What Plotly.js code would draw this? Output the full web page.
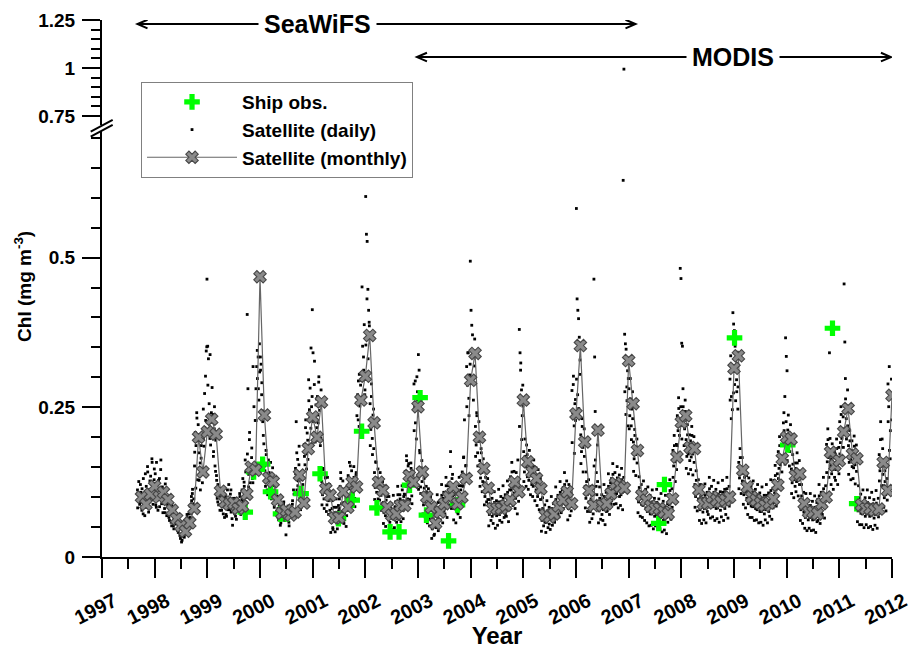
<!DOCTYPE html>
<html><head><meta charset="utf-8">
<script src="https://cdn.plot.ly/plotly-3.0.1.min.js"></script>
<style>html,body{margin:0;padding:0;background:#fff}#chart{width:914px;height:649px}</style>
</head><body><div id="chart"></div>
<script>
// ---------------- DATA ----------------
// Monthly satellite means, Sep 1997 .. Dec 2011 (one value per month)
const monthlyStartYear = 1997;
const monthlyStartMonth = 9;
const monthly1997 = [0.100, 0.088, 0.105, 0.118];
const monthly1998 = [0.100, 0.108, 0.096, 0.078, 0.064, 0.052, 0.043, 0.057, 0.081, 0.200, 0.142, 0.209];
const monthly1999 = [0.230, 0.205, 0.110, 0.092, 0.088, 0.090, 0.081, 0.085, 0.105, 0.150, 0.145, 0.468];
const monthly2000 = [0.237, 0.132, 0.126, 0.095, 0.073, 0.078, 0.070, 0.075, 0.137, 0.090, 0.181, 0.234];
const monthly2001 = [0.200, 0.259, 0.114, 0.103, 0.065, 0.066, 0.109, 0.083, 0.125, 0.117, 0.262, 0.302];
const monthly2002 = [0.370, 0.224, 0.125, 0.111, 0.083, 0.070, 0.072, 0.086, 0.086, 0.136, 0.125, 0.251];
const monthly2003 = [0.142, 0.100, 0.083, 0.056, 0.075, 0.089, 0.100, 0.117, 0.089, 0.100, 0.131, 0.295];
const monthly2004 = [0.340, 0.200, 0.148, 0.115, 0.081, 0.081, 0.081, 0.086, 0.095, 0.125, 0.109, 0.262];
const monthly2005 = [0.159, 0.142, 0.131, 0.114, 0.070, 0.067, 0.072, 0.085, 0.095, 0.109, 0.089, 0.239];
const monthly2006 = [0.353, 0.192, 0.111, 0.086, 0.212, 0.086, 0.089, 0.106, 0.123, 0.118, 0.115, 0.328];
const monthly2007 = [0.256, 0.178, 0.103, 0.095, 0.085, 0.081, 0.081, 0.075, 0.072, 0.097, 0.167, 0.225];
const monthly2008 = [0.236, 0.183, 0.181, 0.112, 0.089, 0.090, 0.100, 0.095, 0.092, 0.095, 0.100, 0.315];
const monthly2009 = [0.336, 0.145, 0.117, 0.100, 0.095, 0.090, 0.086, 0.090, 0.097, 0.120, 0.164, 0.200];
const monthly2010 = [0.197, 0.136, 0.139, 0.089, 0.075, 0.075, 0.072, 0.089, 0.100, 0.175, 0.153, 0.161];
const monthly2011 = [0.209, 0.248, 0.172, 0.164, 0.087, 0.081, 0.081, 0.078, 0.080, 0.158, 0.111, 0.270];

// Ship observations (decimal year, Chl)
const shipYear = [1999.72, 1999.88, 2000.05, 2000.20, 2000.39, 2000.51, 2000.78, 2001.14, 2001.49, 2001.75,
                  2001.93, 2002.22, 2002.47, 2002.64, 2002.84, 2003.04, 2003.16, 2003.58, 2003.75, 2007.57,
                  2007.68, 2009.01, 2010.02, 2010.87, 2011.33];
const shipChl  = [0.075, 0.142, 0.155, 0.109, 0.072, 0.072, 0.106, 0.139, 0.064, 0.095,
                  0.210, 0.082, 0.042, 0.042, 0.120, 0.266, 0.070, 0.027, 0.087, 0.056,
                  0.121, 0.366, 0.187, 0.382, 0.089];

// Daily satellite values, set A: six readings per month in time order (1997 starts in September)
const daily1997 = [0.112,0.095,0.104,0.088,0.121,0.097, 0.078,0.092,0.131,0.085,0.069,0.101,
  0.118,0.094,0.142,0.083,0.109,0.127, 0.135,0.104,0.158,0.096,0.122,0.147];
const daily1998 = [0.121,0.087,0.158,0.095,0.078,0.112, 0.131,0.098,0.162,0.089,0.117,0.105,
  0.104,0.081,0.122,0.091,0.069,0.099, 0.084,0.066,0.091,0.075,0.058,0.087,
  0.071,0.052,0.066,0.078,0.059,0.063, 0.058,0.044,0.061,0.049,0.036,0.055,
  0.047,0.028,0.039,0.052,0.033,0.045, 0.061,0.048,0.066,0.053,0.072,0.058,
  0.085,0.072,0.094,0.106,0.078,0.097, 0.152,0.208,0.186,0.241,0.129,0.221,
  0.174,0.138,0.112,0.165,0.148,0.196, 0.247,0.185,0.216,0.302,0.344,0.464];
const daily1999 = [0.352,0.331,0.256,0.198,0.187,0.241, 0.283,0.238,0.176,0.214,0.152,0.195,
  0.136,0.098,0.121,0.087,0.114,0.103, 0.101,0.078,0.113,0.084,0.095,0.066,
  0.094,0.071,0.082,0.112,0.079,0.089, 0.086,0.105,0.075,0.094,0.053,0.098,
  0.089,0.072,0.068,0.093,0.081,0.077, 0.092,0.079,0.101,0.074,0.088,0.112,
  0.131,0.094,0.118,0.086,0.142,0.109, 0.405,0.281,0.138,0.196,0.124,0.151,
  0.166,0.131,0.318,0.152,0.139,0.228, 0.281,0.318,0.298,0.334,0.262,0.309];
const daily2000 = [0.334,0.322,0.291,0.244,0.203,0.236, 0.152,0.118,0.171,0.135,0.104,0.162,
  0.141,0.113,0.158,0.097,0.128,0.119, 0.108,0.083,0.094,0.118,0.076,0.099,
  0.081,0.062,0.074,0.091,0.057,0.069, 0.084,0.071,0.092,0.066,0.078,0.037,
  0.075,0.064,0.081,0.058,0.072,0.069, 0.081,0.072,0.094,0.066,0.105,0.078,
  0.148,0.226,0.112,0.163,0.127,0.185, 0.098,0.079,0.112,0.086,0.121,0.094,
  0.188,0.154,0.229,0.172,0.207,0.163, 0.296,0.246,0.282,0.215,0.251,0.413];
const daily2001 = [0.341,0.236,0.327,0.192,0.254,0.216, 0.268,0.224,0.301,0.245,0.186,0.279,
  0.126,0.104,0.148,0.097,0.118,0.135, 0.112,0.087,0.121,0.094,0.106,0.078,
  0.072,0.058,0.081,0.049,0.069,0.062, 0.074,0.061,0.083,0.055,0.069,0.077,
  0.097,0.118,0.131,0.089,0.112,0.104, 0.091,0.074,0.086,0.102,0.069,0.095,
  0.136,0.114,0.128,0.152,0.107,0.121, 0.128,0.104,0.133,0.098,0.119,0.141,
  0.236,0.271,0.294,0.218,0.252,0.287, 0.306,0.451,0.267,0.334,0.388,0.279];
const daily2002 = [0.602,0.539,0.527,0.447,0.412,0.386, 0.256,0.213,0.289,0.198,0.237,0.181,
  0.141,0.116,0.158,0.108,0.132,0.097, 0.118,0.095,0.124,0.103,0.089,0.126,
  0.091,0.074,0.088,0.069,0.095,0.078, 0.077,0.062,0.074,0.058,0.081,0.067,
  0.079,0.064,0.075,0.069,0.084,0.066, 0.092,0.078,0.104,0.081,0.088,0.097,
  0.094,0.081,0.112,0.078,0.101,0.088, 0.143,0.118,0.161,0.127,0.152,0.109,
  0.131,0.114,0.148,0.102,0.138,0.119, 0.289,0.251,0.224,0.268,0.301,0.262];
const daily2003 = [0.338,0.312,0.174,0.117,0.149,0.126, 0.104,0.087,0.115,0.093,0.078,0.109,
  0.088,0.071,0.094,0.064,0.083,0.079, 0.061,0.047,0.066,0.052,0.038,0.058,
  0.082,0.068,0.074,0.091,0.063,0.079, 0.094,0.081,0.103,0.086,0.098,0.077,
  0.108,0.094,0.119,0.101,0.085,0.112, 0.124,0.108,0.176,0.113,0.131,0.102,
  0.095,0.081,0.104,0.086,0.092,0.075, 0.108,0.093,0.119,0.096,0.112,0.102,
  0.142,0.118,0.167,0.229,0.126,0.153, 0.318,0.287,0.341,0.265,0.304,0.494];
const daily2004 = [0.412,0.387,0.371,0.335,0.301,0.364, 0.218,0.187,0.236,0.174,0.206,0.193,
  0.161,0.132,0.174,0.141,0.126,0.152, 0.124,0.101,0.133,0.109,0.118,0.096,
  0.088,0.071,0.096,0.077,0.084,0.068, 0.086,0.072,0.091,0.076,0.083,0.069,
  0.087,0.074,0.092,0.071,0.083,0.078, 0.093,0.078,0.098,0.082,0.087,0.071,
  0.101,0.087,0.108,0.092,0.079,0.098, 0.134,0.112,0.142,0.118,0.129,0.107,
  0.117,0.098,0.124,0.103,0.162,0.093, 0.380,0.341,0.324,0.279,0.236,0.252];
const daily2005 = [0.176,0.142,0.168,0.151,0.187,0.134, 0.154,0.128,0.161,0.137,0.149,0.121,
  0.142,0.118,0.151,0.126,0.135,0.112, 0.123,0.101,0.129,0.108,0.117,0.096,
  0.076,0.061,0.081,0.066,0.072,0.058, 0.072,0.058,0.077,0.063,0.069,0.055,
  0.078,0.064,0.081,0.068,0.074,0.061, 0.091,0.076,0.096,0.081,0.087,0.072,
  0.102,0.085,0.108,0.091,0.098,0.081, 0.116,0.098,0.121,0.104,0.112,0.094,
  0.095,0.081,0.101,0.086,0.092,0.077, 0.278,0.241,0.302,0.219,0.256,0.228];
const daily2006 = [0.582,0.431,0.412,0.398,0.367,0.329, 0.204,0.176,0.218,0.183,0.197,0.168,
  0.118,0.098,0.126,0.104,0.113,0.092, 0.091,0.076,0.097,0.081,0.088,0.072,
  0.464,0.334,0.162,0.118,0.104,0.126, 0.092,0.077,0.098,0.081,0.089,0.071,
  0.095,0.079,0.101,0.084,0.091,0.076, 0.112,0.094,0.118,0.098,0.106,0.089,
  0.131,0.111,0.138,0.116,0.124,0.104, 0.126,0.106,0.132,0.111,0.119,0.101,
  0.122,0.104,0.129,0.108,0.629,0.994, 0.372,0.356,0.347,0.284,0.311,0.298];
const daily2007 = [0.281,0.236,0.264,0.219,0.247,0.231, 0.192,0.164,0.203,0.171,0.184,0.157,
  0.109,0.092,0.116,0.097,0.104,0.088, 0.101,0.086,0.106,0.089,0.097,0.082,
  0.091,0.076,0.096,0.079,0.087,0.072, 0.087,0.072,0.092,0.076,0.083,0.068,
  0.086,0.071,0.091,0.075,0.082,0.067, 0.081,0.066,0.086,0.069,0.077,0.061,
  0.078,0.063,0.083,0.066,0.074,0.058, 0.104,0.087,0.111,0.091,0.099,0.083,
  0.178,0.152,0.186,0.159,0.171,0.146, 0.236,0.211,0.248,0.203,0.482,0.465];
const daily2008 = [0.357,0.352,0.251,0.228,0.214,0.243, 0.196,0.168,0.204,0.172,0.189,0.161,
  0.194,0.167,0.203,0.172,0.186,0.158, 0.121,0.101,0.128,0.106,0.116,0.097,
  0.096,0.079,0.101,0.083,0.092,0.075, 0.098,0.081,0.103,0.085,0.093,0.076,
  0.108,0.089,0.114,0.094,0.103,0.085, 0.102,0.084,0.108,0.089,0.097,0.081,
  0.099,0.082,0.105,0.086,0.094,0.078, 0.102,0.085,0.108,0.089,0.097,0.081,
  0.108,0.089,0.114,0.094,0.103,0.085, 0.297,0.336,0.268,0.312,0.408,0.389];
const daily2009 = [0.378,0.352,0.318,0.296,0.342,0.284, 0.158,0.132,0.166,0.139,0.151,0.127,
  0.126,0.104,0.133,0.109,0.121,0.098, 0.108,0.089,0.114,0.093,0.103,0.085,
  0.102,0.084,0.108,0.088,0.097,0.081, 0.097,0.079,0.103,0.083,0.092,0.076,
  0.093,0.076,0.098,0.079,0.088,0.072, 0.097,0.079,0.103,0.083,0.092,0.076,
  0.104,0.086,0.111,0.089,0.099,0.082, 0.128,0.107,0.136,0.112,0.122,0.102,
  0.176,0.148,0.186,0.154,0.169,0.142, 0.186,0.224,0.211,0.268,0.366,0.335];
const daily2010 = [0.311,0.212,0.187,0.204,0.176,0.193, 0.147,0.124,0.155,0.129,0.141,0.118,
  0.148,0.126,0.157,0.131,0.143,0.121, 0.096,0.079,0.102,0.083,0.092,0.075,
  0.081,0.066,0.086,0.069,0.077,0.062, 0.081,0.066,0.086,0.069,0.077,0.062,
  0.078,0.063,0.083,0.066,0.074,0.059, 0.096,0.079,0.102,0.083,0.092,0.075,
  0.108,0.089,0.114,0.093,0.103,0.085, 0.188,0.159,0.196,0.166,0.341,0.153,
  0.164,0.139,0.172,0.146,0.158,0.133, 0.172,0.146,0.181,0.152,0.166,0.139];
const daily2011 = [0.226,0.191,0.238,0.198,0.214,0.183, 0.456,0.359,0.264,0.231,0.248,0.219,
  0.186,0.158,0.194,0.163,0.178,0.151, 0.176,0.149,0.185,0.154,0.168,0.143,
  0.094,0.077,0.099,0.081,0.089,0.073, 0.087,0.072,0.091,0.075,0.083,0.068,
  0.087,0.072,0.091,0.075,0.083,0.068, 0.084,0.069,0.088,0.072,0.080,0.065,
  0.086,0.071,0.090,0.074,0.082,0.067, 0.171,0.144,0.226,0.151,0.197,0.138,
  0.119,0.099,0.126,0.104,0.114,0.095, 0.289,0.251,0.178,0.164,0.273,0.229];

// Daily satellite values, set B: four further readings per month (the wider scatter of the cloud)
const dailyB1997 = [0.082,0.126,0.091,0.108, 0.114,0.072,0.098,0.139, 0.092,0.151,0.075,0.113, 0.109,0.164,0.088,0.129];
const dailyB1998 = [0.139,0.083,0.104,0.128, 0.084,0.146,0.112,0.074, 0.113,0.074,0.131,0.088, 0.095,0.061,0.079,0.052,
  0.081,0.047,0.069,0.055, 0.066,0.041,0.052,0.031, 0.025,0.054,0.036,0.049, 0.043,0.071,0.052,0.064,
  0.066,0.101,0.113,0.089, 0.175,0.115,0.232,0.194, 0.128,0.157,0.186,0.124, 0.196,0.273,0.228,0.351];
const dailyB1999 = [0.287,0.214,0.338,0.226, 0.207,0.168,0.251,0.143, 0.128,0.092,0.108,0.078, 0.088,0.106,0.072,0.097,
  0.101,0.068,0.085,0.121, 0.079,0.112,0.064,0.087, 0.074,0.098,0.063,0.085, 0.083,0.106,0.071,0.096,
  0.099,0.125,0.162,0.091, 0.172,0.117,0.208,0.146, 0.182,0.124,0.251,0.143, 0.228,0.345,0.281,0.356];
const dailyB2000 = [0.312,0.271,0.226,0.189, 0.144,0.178,0.112,0.139, 0.132,0.104,0.117,0.149, 0.089,0.112,0.071,0.102,
  0.066,0.086,0.053,0.078, 0.073,0.089,0.061,0.082, 0.067,0.085,0.052,0.076, 0.069,0.088,0.112,0.074,
  0.139,0.174,0.119,0.154, 0.106,0.083,0.129,0.091, 0.168,0.216,0.147,0.195, 0.261,0.232,0.349,0.268];
const dailyB2001 = [0.226,0.288,0.201,0.264, 0.237,0.292,0.255,0.198, 0.087,0.146,0.081,0.132, 0.076,0.133,0.071,0.121,
  0.041,0.094,0.046,0.083, 0.042,0.097,0.047,0.086, 0.081,0.141,0.076,0.127, 0.056,0.114,0.051,0.101,
  0.097,0.158,0.091,0.144, 0.089,0.151,0.084,0.137, 0.258,0.229,0.305,0.264, 0.295,0.352,0.312,0.271];
const dailyB2002 = [0.354,0.431,0.331,0.392, 0.186,0.268,0.171,0.247, 0.096,0.159,0.088,0.147, 0.083,0.141,0.078,0.127,
  0.056,0.114,0.051,0.101, 0.043,0.101,0.048,0.089, 0.046,0.103,0.049,0.092, 0.058,0.118,0.063,0.104,
  0.059,0.119,0.064,0.105, 0.104,0.169,0.097,0.156, 0.096,0.157,0.089,0.143, 0.211,0.294,0.197,0.276];
const dailyB2003 = [0.113,0.178,0.106,0.161, 0.072,0.131,0.067,0.118, 0.057,0.114,0.052,0.101, 0.031,0.084,0.036,0.072,
  0.049,0.104,0.044,0.092, 0.062,0.121,0.057,0.108, 0.072,0.133,0.066,0.119, 0.087,0.151,0.081,0.138,
  0.062,0.121,0.057,0.108, 0.072,0.133,0.066,0.119, 0.101,0.166,0.094,0.152, 0.251,0.341,0.236,0.322];
const dailyB2004 = [0.291,0.336,0.262,0.319, 0.168,0.241,0.152,0.226, 0.118,0.181,0.109,0.164, 0.087,0.148,0.092,0.131,
  0.052,0.112,0.061,0.098, 0.056,0.109,0.048,0.094, 0.053,0.113,0.061,0.101, 0.058,0.119,0.066,0.104,
  0.068,0.127,0.059,0.112, 0.097,0.158,0.086,0.143, 0.081,0.141,0.072,0.129, 0.218,0.312,0.196,0.287];
const dailyB2005 = [0.126,0.197,0.118,0.171, 0.113,0.178,0.104,0.163, 0.101,0.162,0.094,0.149, 0.086,0.146,0.079,0.131,
  0.043,0.099,0.052,0.087, 0.041,0.094,0.049,0.083, 0.046,0.101,0.053,0.089, 0.058,0.117,0.066,0.103,
  0.067,0.126,0.074,0.112, 0.081,0.141,0.088,0.127, 0.062,0.121,0.069,0.107, 0.191,0.288,0.173,0.263];
const dailyB2006 = [0.297,0.271,0.248,0.305, 0.156,0.231,0.142,0.214, 0.082,0.142,0.076,0.129, 0.058,0.118,0.064,0.104,
  0.152,0.243,0.141,0.187, 0.057,0.117,0.063,0.104, 0.061,0.121,0.054,0.108, 0.077,0.139,0.071,0.124,
  0.094,0.156,0.088,0.141, 0.089,0.151,0.082,0.137, 0.086,0.148,0.079,0.133, 0.276,0.238,0.261,0.219];
const dailyB2007 = [0.214,0.298,0.196,0.276, 0.143,0.213,0.136,0.197, 0.074,0.134,0.068,0.121, 0.066,0.127,0.061,0.113,
  0.057,0.117,0.052,0.103, 0.053,0.112,0.047,0.098, 0.052,0.113,0.048,0.097, 0.047,0.106,0.042,0.093,
  0.045,0.103,0.039,0.089, 0.068,0.129,0.063,0.114, 0.133,0.203,0.126,0.188, 0.186,0.266,0.174,0.251];
const dailyB2008 = [0.197,0.281,0.186,0.262, 0.148,0.221,0.139,0.204, 0.146,0.218,0.137,0.201, 0.083,0.144,0.077,0.129,
  0.061,0.121,0.056,0.107, 0.062,0.122,0.057,0.108, 0.071,0.133,0.065,0.118, 0.067,0.128,0.061,0.113,
  0.064,0.124,0.058,0.109, 0.067,0.128,0.061,0.113, 0.071,0.133,0.065,0.118, 0.262,0.231,0.246,0.274];
const dailyB2009 = [0.288,0.261,0.276,0.247, 0.114,0.181,0.106,0.166, 0.088,0.149,0.082,0.136, 0.071,0.132,0.066,0.118,
  0.066,0.127,0.061,0.113, 0.062,0.121,0.057,0.107, 0.058,0.117,0.053,0.103, 0.062,0.121,0.057,0.107,
  0.068,0.129,0.063,0.115, 0.091,0.153,0.085,0.139, 0.131,0.201,0.124,0.186, 0.164,0.241,0.155,0.226];
const dailyB2010 = [0.161,0.237,0.152,0.221, 0.106,0.171,0.099,0.157, 0.109,0.174,0.102,0.161, 0.061,0.121,0.056,0.108,
  0.048,0.106,0.044,0.093, 0.048,0.106,0.044,0.093, 0.045,0.102,0.041,0.091, 0.061,0.121,0.056,0.108,
  0.071,0.133,0.065,0.119, 0.141,0.214,0.133,0.198, 0.121,0.189,0.113,0.176, 0.128,0.197,0.121,0.183];
const dailyB2011 = [0.172,0.251,0.163,0.234, 0.209,0.298,0.197,0.279, 0.138,0.211,0.129,0.194, 0.131,0.202,0.122,0.187,
  0.059,0.119,0.054,0.105, 0.054,0.112,0.049,0.099, 0.054,0.112,0.049,0.099, 0.051,0.108,0.046,0.096,
  0.053,0.111,0.048,0.098, 0.127,0.196,0.119,0.181, 0.083,0.144,0.077,0.131, 0.226,0.318,0.211,0.297];

const xTickYears  = [1997,1998,1999,2000,2001,2002,2003,2004,2005,2006,2007,2008,2009,2010,2011,2012];
const xTickLabels = ['1997','1998','1999','2000','2001','2002','2003','2004','2005','2006','2007','2008','2009','2010','2011','2012'];
const yTicksLow   = [0, 0.25, 0.5];
const yLabelsLow  = ['0', '0.25', '0.5'];
const yTicksHigh  = [0.75, 1, 1.25];
const yLabelsHigh = ['0.75', '1', '1.25'];

// ---------------- BUILD ----------------
const monthlyAll = [].concat(monthly1997, monthly1998, monthly1999, monthly2000, monthly2001, monthly2002,
  monthly2003, monthly2004, monthly2005, monthly2006, monthly2007, monthly2008, monthly2009, monthly2010, monthly2011);
const monthlyX = monthlyAll.map((v, i) => {
  const m0 = monthlyStartMonth - 1 + i;
  const yr = monthlyStartYear + Math.floor(m0 / 12);
  const mo = (m0 % 12) + 1;
  return yr + mo / 12;                              // plotted at month end
});

const dailySets = [
  [1997, 9, 6, daily1997], [1998, 1, 6, daily1998], [1999, 1, 6, daily1999], [2000, 1, 6, daily2000],
  [2001, 1, 6, daily2001], [2002, 1, 6, daily2002], [2003, 1, 6, daily2003], [2004, 1, 6, daily2004],
  [2005, 1, 6, daily2005], [2006, 1, 6, daily2006], [2007, 1, 6, daily2007], [2008, 1, 6, daily2008],
  [2009, 1, 6, daily2009], [2010, 1, 6, daily2010], [2011, 1, 6, daily2011],
  [1997, 9, 4, dailyB1997], [1998, 1, 4, dailyB1998], [1999, 1, 4, dailyB1999], [2000, 1, 4, dailyB2000],
  [2001, 1, 4, dailyB2001], [2002, 1, 4, dailyB2002], [2003, 1, 4, dailyB2003], [2004, 1, 4, dailyB2004],
  [2005, 1, 4, dailyB2005], [2006, 1, 4, dailyB2006], [2007, 1, 4, dailyB2007], [2008, 1, 4, dailyB2008],
  [2009, 1, 4, dailyB2009], [2010, 1, 4, dailyB2010], [2011, 1, 4, dailyB2011]];
const breakLow = 0.711;
const dLowX = [], dLowY = [], dHighX = [], dHighY = [];
dailySets.forEach(([yr, startM, perMonth, vals]) => {
  vals.forEach((v, k) => {
    const mo = startM - 1 + Math.floor(k / perMonth);
    const x = yr + (mo + ((k % perMonth) + 0.5) / perMonth) / 12;
    if (v <= breakLow) { dLowX.push(x); dLowY.push(v); } else { dHighX.push(x); dHighY.push(v); }
  });
});

const FONT = 'Liberation Sans, Arial, Helvetica, sans-serif';

const traces = [
  { x: dLowX, y: dLowY, type: 'scatter', mode: 'markers', name: 'Satellite (daily)',
    marker: { symbol: 'square', size: 2.8, color: '#000' }, legendgroup: 'd', legendrank: 2, xaxis: 'x', yaxis: 'y' },
  { x: dHighX, y: dHighY, type: 'scatter', mode: 'markers', name: 'Satellite (daily)', showlegend: false,
    marker: { symbol: 'square', size: 2.8, color: '#000' }, legendgroup: 'd', xaxis: 'x', yaxis: 'y2' },
  { x: shipYear, y: shipChl, type: 'scatter', mode: 'markers', name: 'Ship obs.',
    marker: { symbol: 'cross', size: 13, color: '#00ff00', line: { width: 0 } }, legendgroup: 's', legendrank: 1 },
  { x: monthlyX, y: monthlyAll, type: 'scatter', mode: 'lines+markers', name: 'Satellite (monthly)',
    line: { color: '#666666', width: 1.2 },
    marker: { symbol: 'x', size: 11, color: '#8a8a8a', line: { color: '#474747', width: 1.1 } },
    legendgroup: 'm', legendrank: 3 }
];

const axisCommon = {
  showline: true, linewidth: 2, linecolor: '#000', showgrid: false, zeroline: false,
  ticks: 'outside', tickwidth: 2, tickcolor: '#000', fixedrange: true
};

// axis-break geometry (paper units)
const bx0 = -0.0143, bx1 = 0.0135;
// arrow geometry: head length (years) and half height (upper-axis units)
const headL = 0.19, headH = 0.0224;
function doubleArrow(xa, xb, y) {
  const st = { color: '#000', width: 2 };
  return [
    { type: 'line', xref: 'x', yref: 'y2', x0: xa, x1: xb, y0: y, y1: y, line: st },
    { type: 'path', xref: 'x', yref: 'y2', line: st,
      path: `M${xa + headL},${y + headH} L${xa},${y} L${xa + headL},${y - headH}` },
    { type: 'path', xref: 'x', yref: 'y2', line: st,
      path: `M${xb - headL},${y + headH} L${xb},${y} L${xb - headL},${y - headH}` }
  ];
}

const layout = {
  width: 914, height: 649,
  margin: { l: 102, r: 22, t: 20, b: 92 },
  paper_bgcolor: '#fff', plot_bgcolor: 'rgba(0,0,0,0)',
  font: { family: FONT, color: '#000' },
  showlegend: true,
  legend: { x: 0.0494, y: 0.8845, xanchor: 'left', yanchor: 'top', bgcolor: '#fff',
    bordercolor: '#808080', borderwidth: 1, itemwidth: 90, traceorder: 'grouped', tracegroupgap: 0,
    font: { family: FONT, size: 19, weight: 'bold', color: '#000' } },
  xaxis: Object.assign({}, axisCommon, {
    range: [1997, 2012], tickmode: 'array', tickvals: xTickYears, ticktext: xTickLabels,
    ticklen: 19, tickangle: -27, ticklabelshift: 12, ticklabelstandoff: 4,
    tickfont: { family: FONT, size: 20, weight: 'bold' },
    minor: { tick0: 1997, dtick: 0.5, ticks: 'outside', ticklen: 10, tickwidth: 2, tickcolor: '#000' },
    title: { text: 'Year', standoff: 7, font: { family: FONT, size: 24, weight: 'bold', color: '#000' } },
    anchor: 'y'
  }),
  yaxis: Object.assign({}, axisCommon, {
    domain: [0, 0.7933], range: [0, 0.7114], tickmode: 'array', tickvals: yTicksLow, ticktext: yLabelsLow,
    ticklen: 18, ticklabelstandoff: 3, tickfont: { family: FONT, size: 19, weight: 'bold' },
    minor: { tick0: 0, dtick: 0.05, ticks: 'outside', ticklen: 9, tickwidth: 2, tickcolor: '#000' },
    anchor: 'x'
  }),
  yaxis2: Object.assign({}, axisCommon, {
    domain: [0.8045, 1], range: [0.7031, 1.25], tickmode: 'array', tickvals: yTicksHigh, ticktext: yLabelsHigh,
    ticklen: 18, ticklabelstandoff: 3, tickfont: { family: FONT, size: 19, weight: 'bold' },
    minor: { tick0: 0.75, dtick: 0.05, ticks: 'outside', ticklen: 9, tickwidth: 2, tickcolor: '#000' },
    anchor: 'x'
  }),
  shapes: [
    { type: 'path', xref: 'paper', yref: 'paper', layer: 'above',
      path: `M${bx0},0.7920 L${bx1},0.8138 L${bx1},0.8045 L${bx0},0.7827 Z`,
      fillcolor: '#fff', line: { width: 0 } },
    { type: 'line', xref: 'paper', yref: 'paper', layer: 'above', x0: bx0, y0: 0.7920, x1: bx1, y1: 0.8138,
      line: { color: '#000', width: 2 } },
    { type: 'line', xref: 'paper', yref: 'paper', layer: 'above', x0: bx0, y0: 0.7827, x1: bx1, y1: 0.8045,
      line: { color: '#000', width: 2 } }
  ].concat(doubleArrow(1997.674, 2007.13, 1.229), doubleArrow(2002.98, 2011.98, 1.057)),
  annotations: [
    { xref: 'x', yref: 'y2', x: 2001.10, y: 1.229, text: 'SeaWiFS', showarrow: false, bgcolor: '#fff',
      borderpad: 5, font: { family: FONT, size: 25, weight: 'bold', color: '#000' } },
    { xref: 'x', yref: 'y2', x: 2008.98, y: 1.057, text: 'MODIS', showarrow: false, bgcolor: '#fff',
      borderpad: 5, font: { family: FONT, size: 25, weight: 'bold', color: '#000' } },
    { xref: 'paper', yref: 'paper', x: -0.100, y: 0.503, textangle: -90, showarrow: false,
      text: 'Chl (mg m<sup>-3</sup>)', xanchor: 'center', yanchor: 'middle',
      font: { family: FONT, size: 19, weight: 'bold', color: '#000' } }
  ]
};

Plotly.newPlot('chart', traces, layout, { displayModeBar: false, staticPlot: true });
</script>
</body></html>
